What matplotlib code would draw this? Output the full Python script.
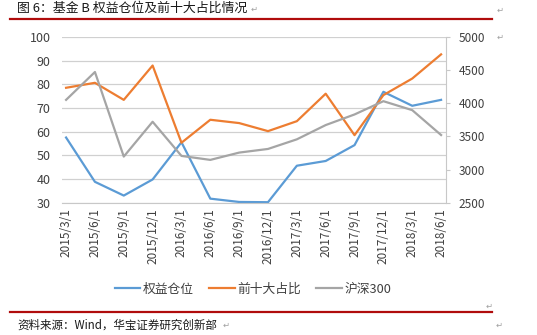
import matplotlib
import numpy
import matplotlib.pyplot as plt
from matplotlib.lines import Line2D

matplotlib.use("agg")

plt.rcParams['font.family'] = ['Noto Sans CJK SC', 'DejaVu Sans']

dates = ['2015/3/1', '2015/6/1', '2015/9/1', '2015/12/1', '2016/3/1', '2016/6/1', '2016/9/1',
         '2016/12/1', '2017/3/1', '2017/6/1', '2017/9/1', '2017/12/1', '2018/3/1', '2018/6/1']
equity_position = [57.5, 38.8, 33.0, 39.8, 55.5, 31.7, 30.3, 30.2, 45.6, 47.6, 54.3, 76.8, 70.9, 73.4]
top10_share = [78.5, 80.6, 73.4, 87.9, 55.3, 65.0, 63.6, 60.2, 64.4, 76.0, 58.5, 75.4, 82.4, 92.6]
hs300 = [4050, 4470, 3195, 3720, 3205, 3145, 3255, 3310, 3455, 3670, 3830, 4030, 3895, 3520]

left_ticks = [30, 40, 50, 60, 70, 80, 90, 100]
right_ticks = [2500, 3000, 3500, 4000, 4500, 5000]

BLUE = "#5B9BD5"
ORANGE = "#ED7D31"
GRAY = "#A5A5A5"
RED = "#B00C0C"
MARK = "#A0A0A0"
TXT = "#404040"

fig = plt.figure(figsize=(5.37, 3.35), dpi=100)
ax = fig.add_axes([0.115, 0.395, 0.7155, 0.495])
ax2 = ax.twinx()

x = numpy.arange(len(dates))
ax.plot(x, equity_position, color=BLUE, lw=1.6, label='权益仓位')
ax.plot(x, top10_share, color=ORANGE, lw=1.6, label='前十大占比')
ax2.plot(x, hs300, color=GRAY, lw=1.6, label='沪深300')

ax.set_ylim(30, 100)
ax.set_yticks(left_ticks)
ax2.set_ylim(2500, 5000)
ax2.set_yticks(right_ticks)
ax.set_xlim(-0.15, len(dates) - 1 + 0.17)
ax.set_xticks(x)
ax.set_xticklabels(dates, rotation=90, fontsize=8.5, color=TXT)

ax.grid(axis='y', color="#D0D0D0", lw=0.9)
ax.set_axisbelow(True)
for s in ['top', 'left', 'right']:
    ax.spines[s].set_visible(False)
ax.spines['bottom'].set_color("#C8C8C8")
for s in ['top', 'left', 'bottom']:
    ax2.spines[s].set_visible(False)
ax2.spines['right'].set_color("#C8C8C8")

ax.tick_params(axis='y', length=0, labelsize=9, labelcolor=TXT, pad=8)
ax.tick_params(axis='x', length=0, pad=4)
ax2.tick_params(axis='y', length=3, color="#C8C8C8", labelsize=8.5, labelcolor=TXT, pad=6)

handles = [Line2D([], [], color=BLUE, lw=1.6), Line2D([], [], color=ORANGE, lw=1.6),
           Line2D([], [], color=GRAY, lw=1.6)]
fig.legend(handles, ['权益仓位', '前十大占比', '沪深300'], loc='center', bbox_to_anchor=(0.471, 0.137),
           ncol=3, frameon=False, fontsize=9.2, handlelength=2.0, handletextpad=0.2, columnspacing=1.2,
           labelcolor=TXT)

# title, source and the red rules
fig.text(0.032, 0.975, '图 6：基金 B 权益仓位及前十大占比情况', fontsize=9.3, va='center', color="#1A1A1A")
fig.text(0.467, 0.972, '↵', fontsize=6, va='center', color=MARK)
fig.add_artist(Line2D([0.019, 0.916], [0.943, 0.943], color=RED, lw=1.6))
fig.add_artist(Line2D([0.019, 0.916], [0.070, 0.070], color=RED, lw=1.6))
fig.text(0.032, 0.030, '资料来源：Wind，华宝证券研究创新部', fontsize=8.3, va='center', color="#1A1A1A")
fig.text(0.414, 0.028, '↵', fontsize=6, va='center', color=MARK)
for mx, my in [(0.925, 0.970), (0.925, 0.890), (0.905, 0.087), (0.922, 0.028)]:
    fig.text(mx, my, '↵', fontsize=6, va='center', color=MARK)

plt.savefig("out.png", dpi=100)
